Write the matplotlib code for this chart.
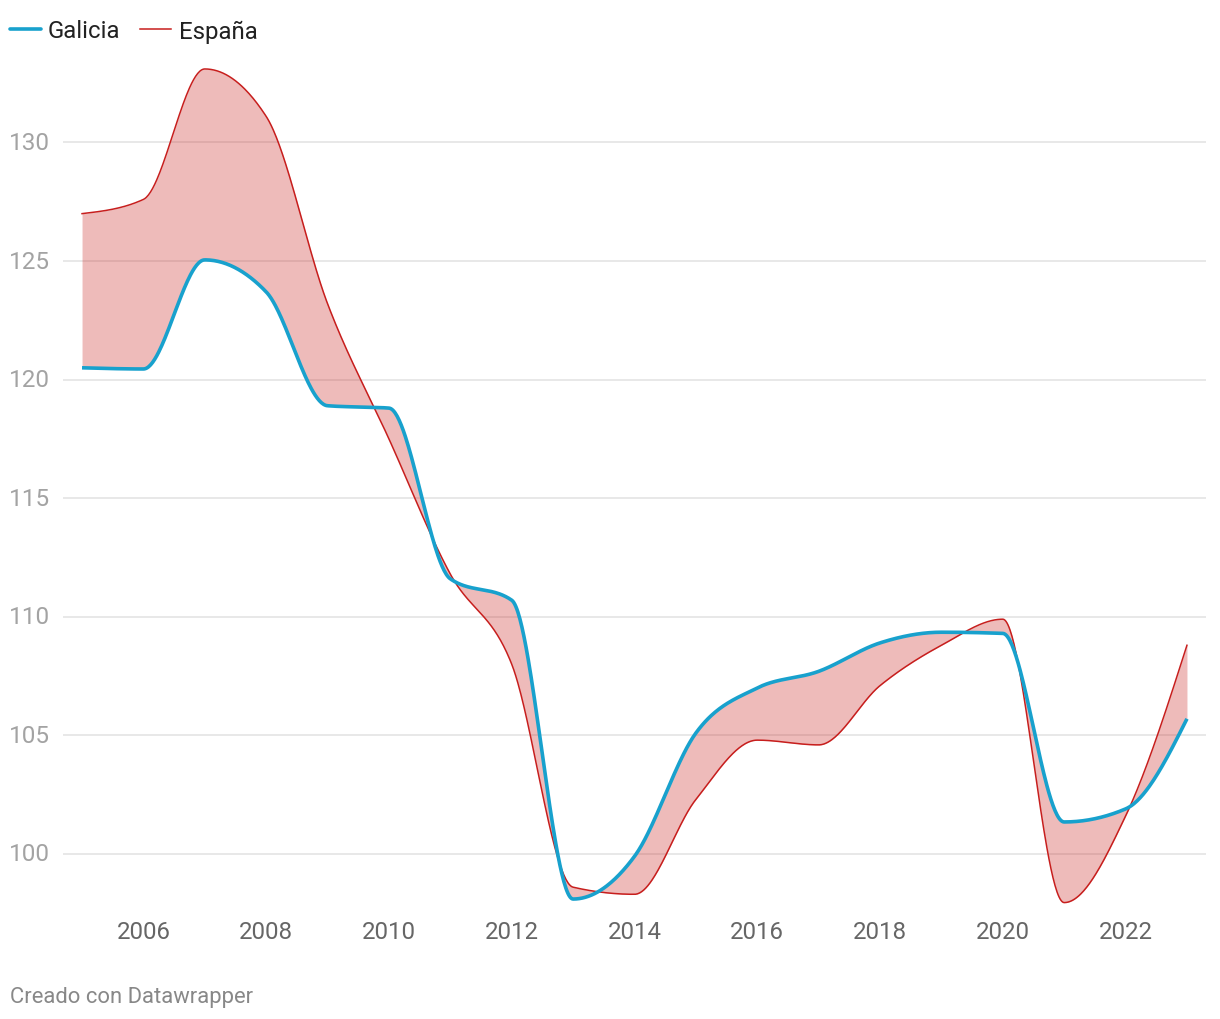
import numpy as np
import matplotlib
matplotlib.use('Agg')
import matplotlib.pyplot as plt
from matplotlib.lines import Line2D

plt.rcParams['font.family'] = ['Roboto', 'DejaVu Sans']

# datos (lectura aproximada del gráfico)
years = list(range(2005, 2024))
galicia = [120.5, 120.45, 125.05, 123.7, 118.9, 118.8, 111.6, 110.7, 98.1, 99.9,
           105.1, 107.0, 107.7, 108.9, 109.35, 109.3, 101.35, 101.9, 105.7]
espana = [127.0, 127.6, 133.1, 131.1, 123.2, 117.5, 111.8, 108.0, 98.6, 98.3,
          102.3, 104.8, 104.6, 107.1, 108.8, 109.9, 97.95, 101.6, 108.8]
yticks = [100, 105, 110, 115, 120, 125, 130]
xticks = list(range(2006, 2023, 2))

BLUE = '#18a1cd'
RED = '#c71e1d'


def monotone_x(x, y, n=60):
    """curva monotona tipo d3.curveMonotoneX"""
    x = np.asarray(x, float); y = np.asarray(y, float)
    h = np.diff(x); s = np.diff(y) / h
    t = np.zeros(len(x))
    for i in range(1, len(x) - 1):
        p = (s[i - 1] * h[i] + s[i] * h[i - 1]) / (h[i - 1] + h[i])
        t[i] = (np.sign(s[i - 1]) + np.sign(s[i])) * min(abs(s[i - 1]), abs(s[i]), 0.5 * abs(p))
    t[0] = (3 * s[0] - t[1]) / 2
    t[-1] = (3 * s[-1] - t[-2]) / 2
    xs, ys = [], []
    for i in range(len(x) - 1):
        u = np.linspace(0, 1, n, endpoint=(i == len(x) - 2))
        h00 = 2 * u**3 - 3 * u**2 + 1; h10 = u**3 - 2 * u**2 + u
        h01 = -2 * u**3 + 3 * u**2; h11 = u**3 - u**2
        xs.append(x[i] + h[i] * u)
        ys.append(h00 * y[i] + h10 * h[i] * t[i] + h01 * y[i + 1] + h11 * h[i] * t[i + 1])
    return np.concatenate(xs), np.concatenate(ys)


fig = plt.figure(figsize=(12.2, 10.2), dpi=100)
W, H = 1220, 1020
ax = fig.add_axes([63 / W, 1 - 910 / H, (1206 - 63) / W, 850 / H])

gx, gy = monotone_x(years, galicia)
ex, ey = monotone_x(years, espana)

ax.fill_between(gx, gy, ey, color=RED, alpha=0.3, linewidth=0, zorder=2)
ax.plot(ex, ey, color=RED, lw=1.1, zorder=3)
ax.plot(gx, gy, color=BLUE, lw=2.6, zorder=4, solid_capstyle='butt')

ax.set_xlim(2004.69, 2023.31)
ax.set_ylim(97.68, 133.52)
for v in yticks:
    ax.axhline(v, color='#e2e2e2', lw=1.1, zorder=1)
    ax.text(2004.69 - 13 / 61.4, v, str(v), ha='right', va='center',
            fontsize=17.5, color='#a3a3a3', clip_on=False)

ax.set_yticks([])
ax.set_xticks(xticks)
ax.set_xticklabels([str(v) for v in xticks], fontsize=17.3, color='#666666')
ax.tick_params(axis='x', length=0, pad=8)
for sp in ax.spines.values():
    sp.set_visible(False)

# leyenda
fig.add_artist(Line2D([10 / W, 41 / W], [1 - 30 / H] * 2, color=BLUE, lw=2.6, solid_capstyle='round'))
fig.text(48 / W, 1 - 32 / H, 'Galicia', fontsize=17.3, color='#222222', va='center')
fig.add_artist(Line2D([140 / W, 171 / W], [1 - 30 / H] * 2, color=RED, lw=1.1))
fig.text(179 / W, 1 - 32 / H, 'España', fontsize=17.3, color='#222222', va='center')

fig.text(10 / W, 1 - 998 / H, 'Creado con Datawrapper', fontsize=15.8, color='#888888', va='center')

fig.savefig('out.png', dpi=100, facecolor='white')
